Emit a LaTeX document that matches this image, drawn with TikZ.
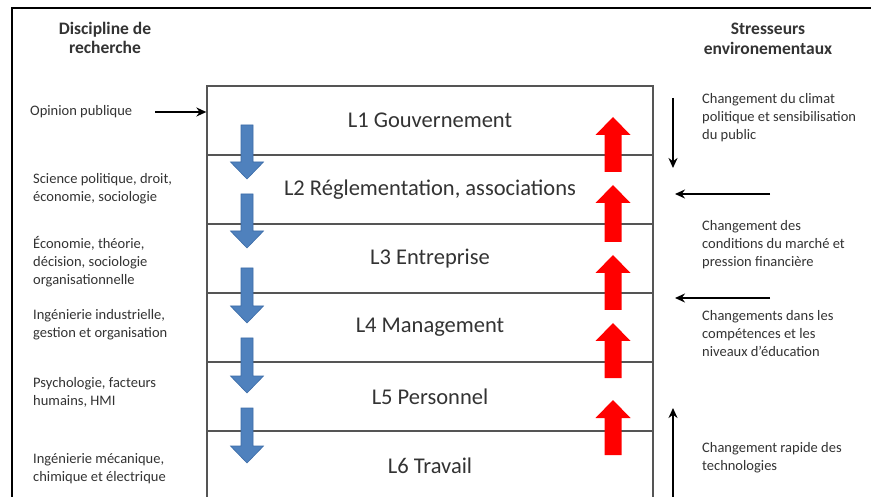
\documentclass[tikz,border=0pt]{standalone}
\usepackage{fontspec}
\setmainfont{Carlito}
\usetikzlibrary{arrows.meta}
\definecolor{txt}{HTML}{333333}
\definecolor{boxline}{HTML}{555555}
\definecolor{blueA}{HTML}{4F81BD}
\definecolor{blueB}{HTML}{3C6CA8}
\newcommand{\blockdown}[3]{%
  \fill[blueA,draw=blueB,line width=0.6pt] (#1-6,#2) -- (#1+6,#2) -- (#1+6,#3-17) -- (#1+16.5,#3-17) -- (#1,#3) -- (#1-16.5,#3-17) -- (#1-6,#3-17) -- cycle;}
\newcommand{\blockup}[3]{%
  \fill[red] (#1-8.5,#3) -- (#1+8.5,#3) -- (#1+8.5,#2+18) -- (#1+17.5,#2+18) -- (#1,#2) -- (#1-17.5,#2+18) -- (#1-8.5,#2+18) -- cycle;}
\newcommand{\lowered}[1]{\raisebox{-2.5pt}{#1}}
\tikzset{
  layer/.style={draw=boxline,line width=1.3pt,minimum width=446pt,minimum height=69pt,inner sep=0pt,font=\fontsize{22.5}{24}\selectfont,text=txt},
  head/.style={font=\bfseries\fontsize{17.5}{19.5}\selectfont,align=center,text=txt,inner sep=0pt},
  small/.style={font=\fontsize{14.5}{18}\selectfont,align=left,text=txt,anchor=west,inner sep=0pt},
  blk/.style={line width=2pt,-{Stealth[length=10pt,width=9pt]}}
}
\begin{document}
\begin{tikzpicture}[x=1pt,y=-1pt]
\useasboundingbox (0,0) rectangle (871,497);
\fill[white] (0,0) rectangle (871,497);
\draw[line width=2.5pt] (12,8) rectangle (900,530);
% layers
\node[layer] (l1) at (430,120.5) {\lowered{L1 Gouvernement}};
\node[layer] (l2) at (430,189.5) {\lowered{L2 Réglementation, associations}};
\node[layer] (l3) at (430,258.5) {\lowered{L3 Entreprise}};
\node[layer] (l4) at (430,327.5) {\lowered{L4 Management}};
\node[layer] (l5) at (430,396.5) {\lowered{L5 Personnel}};
\node[layer] (l6) at (430,465.5) {\lowered{L6 Travail}};
% block arrows
\blockdown{247}{125}{179}
\blockdown{247}{194}{248}
\blockdown{247}{268}{323}
\blockdown{247}{338}{393}
\blockdown{247}{408}{463}
\blockup{613}{117}{172}
\blockup{613}{185}{242}
\blockup{613}{255}{310}
\blockup{613}{323}{378}
\blockup{613}{400}{455}
% headers
\node[head] (hl) at (105,38) {Discipline de\\recherche};
\node[head] (hr) at (768,39) {Stresseurs\\environementaux};
% left texts
\node[small] (op) at (30,112) {Opinion publique};
\node[small] (s2) at (33,189) {Science politique, droit,\\économie, sociologie};
\node[small] (s3) at (33,262) {Économie, théorie,\\décision, sociologie\\organisationnelle};
\node[small] (s4) at (33,325) {Ingénierie industrielle,\\gestion et organisation};
\node[small] (s5) at (33,392) {Psychologie, facteurs\\humains, HMI};
\node[small] (s6) at (33,469) {Ingénierie mécanique,\\chimique et électrique};
\coordinate (ops) at (155,112);
\draw[blk] (ops) -- (ops -| l1.west);
% right texts
\node[small] (r1) at (702,118) {Changement du climat\\politique et sensibilisation\\du public};
\node[small] (r2) at (702,245) {Changement des\\conditions du marché et\\pression financière};
\node[small] (r3) at (702,334) {Changements dans les\\compétences et les\\niveaux d'éducation};
\node[small] (r4) at (702,458) {Changement rapide des\\technologies};
\coordinate (a1s) at (673,98);
\coordinate (a1e) at (673,168);
\coordinate (a2s) at (770,194);
\coordinate (a2e) at (675,194);
\coordinate (a3s) at (770,298);
\coordinate (a3e) at (675,298);
\coordinate (a4s) at (673,497);
\coordinate (a4e) at (673,408);
\draw[blk] (a1s) -- (a1e);
\draw[blk] (a2s) -- (a2e);
\draw[blk] (a3s) -- (a3e);
\draw[blk] (a4s) -- (a4e);
\end{tikzpicture}
\end{document}
